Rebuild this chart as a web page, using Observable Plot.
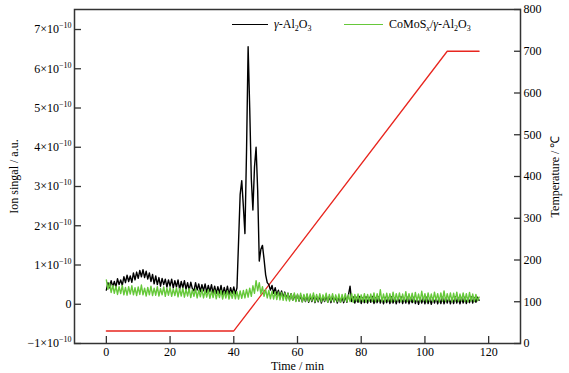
<!DOCTYPE html>
<html><head><meta charset="utf-8">
<script src="https://cdn.jsdelivr.net/npm/d3@7"></script>
<script src="https://cdn.jsdelivr.net/npm/@observablehq/plot@0.6"></script>
<style>
html,body{margin:0;padding:0;background:#fff;}
#wrap{position:relative;width:569px;height:373px;font-family:"Liberation Serif","Times New Roman",serif;}
.leg{position:absolute;font-size:12px;color:#000;line-height:12px;white-space:nowrap;}
.sw{position:absolute;height:0;}
.leg sub{font-size:8px;vertical-align:-3px;line-height:0;}
</style></head><body><div id="wrap"></div>
<script>
// ---- data ----
const timeStart = 0, timeStep = 0.5; // sampling of the two MS traces (min)
const blackValues = [ // γ-Al2O3, ion signal in 1e-10 a.u.
  0.36,0.55,0.42,0.60,0.45,0.58,0.44,0.65,0.50,0.62,0.48,0.70,0.55,0.74,0.58,0.72,0.56,0.80,0.62,0.82,
  0.66,0.86,0.70,0.88,0.68,0.84,0.64,0.80,0.58,0.76,0.52,0.72,0.50,0.68,0.46,0.66,0.50,0.64,0.44,0.62,
  0.46,0.64,0.42,0.60,0.44,0.62,0.38,0.58,0.42,0.60,0.38,0.55,0.36,0.56,0.40,0.34,0.55,0.36,0.52,0.32,
  0.50,0.34,0.52,0.30,0.48,0.32,0.50,0.28,0.46,0.27,0.45,0.28,0.48,0.24,0.43,0.26,0.46,0.24,0.42,0.27,
  0.44,0.26,0.42,1.60,2.80,3.15,2.50,1.80,3.90,6.56,5.00,3.20,2.40,3.50,4.00,2.90,1.10,1.40,1.50,1.15,
  0.75,0.55,0.50,0.36,0.48,0.28,0.42,0.24,0.36,0.19,0.34,0.17,0.31,0.14,0.28,0.12,0.27,0.10,0.25,0.09,
  0.24,0.08,0.23,0.06,0.22,0.07,0.24,0.05,0.21,0.07,0.23,0.04,0.20,0.06,0.22,0.03,0.19,0.07,0.23,0.05,
  0.20,0.04,0.21,0.06,0.19,0.03,0.20,0.05,0.18,0.04,0.21,0.05,0.24,0.46,0.07,0.19,0.03,0.18,0.05,0.20,
  0.02,0.17,0.04,0.19,0.03,0.18,0.05,0.20,0.02,0.17,0.04,0.19,0.03,0.16,0.01,0.18,0.04,0.17,0.02,0.19,
  0.03,0.16,0.01,0.17,0.04,0.19,0.02,0.16,0.03,0.18,0.01,0.16,0.04,0.18,0.02,0.15,0.00,0.17,0.03,0.16,
  0.01,0.18,0.02,0.15,0.00,0.16,0.03,0.17,0.01,0.15,0.02,0.18,0.01,0.16,0.03,0.17,0.01,0.16,0.02,0.19,
  0.03,0.16,0.01,0.17,0.03,0.18,0.02,0.16,0.04,0.19,0.03,0.17,0.05,0.18,0.10
];
const greenValues = [ // CoMoSx/γ-Al2O3
  0.62,0.38,0.54,0.30,0.48,0.28,0.46,0.25,0.45,0.27,0.48,0.24,0.43,0.23,0.45,0.26,0.47,0.24,0.42,0.22,
  0.44,0.25,0.49,0.24,0.41,0.21,0.43,0.24,0.46,0.22,0.41,0.23,0.45,0.21,0.40,0.24,0.44,0.20,0.41,0.23,
  0.43,0.20,0.39,0.22,0.42,0.19,0.40,0.21,0.41,0.18,0.38,0.21,0.40,0.17,0.37,0.20,0.39,0.16,0.36,0.19,
  0.38,0.16,0.35,0.18,0.37,0.15,0.34,0.17,0.36,0.14,0.33,0.17,0.35,0.13,0.32,0.16,0.34,0.13,0.31,0.15,
  0.33,0.14,0.32,0.13,0.34,0.15,0.35,0.16,0.38,0.18,0.41,0.20,0.47,0.28,0.60,0.34,0.55,0.26,0.45,0.20,
  0.38,0.16,0.35,0.14,0.33,0.13,0.32,0.12,0.31,0.11,0.30,0.10,0.29,0.09,0.28,0.08,0.27,0.10,0.29,0.07,
  0.26,0.09,0.28,0.06,0.25,0.08,0.27,0.07,0.26,0.09,0.29,0.06,0.25,0.08,0.27,0.06,0.24,0.09,0.28,0.05,
  0.25,0.08,0.27,0.06,0.24,0.07,0.26,0.05,0.25,0.08,0.27,0.06,0.24,0.07,0.27,0.05,0.25,0.08,0.26,0.06,
  0.24,0.07,0.27,0.05,0.25,0.08,0.26,0.07,0.29,0.06,0.27,0.08,0.37,0.07,0.26,0.06,0.28,0.08,0.27,0.06,
  0.31,0.07,0.27,0.09,0.29,0.06,0.26,0.08,0.32,0.07,0.27,0.09,0.28,0.06,0.30,0.08,0.26,0.07,0.33,0.09,
  0.27,0.06,0.29,0.08,0.26,0.07,0.31,0.09,0.27,0.06,0.29,0.08,0.34,0.07,0.27,0.09,0.29,0.06,0.28,0.08,
  0.31,0.07,0.26,0.09,0.29,0.07,0.27,0.06,0.30,0.08,0.26,0.07,0.25,0.09,0.18
];
const tempTimes = [0, 40, 107, 117];   // min
const tempValues = [30, 30, 700, 700]; // °C
const xTicks = [0, 20, 40, 60, 80, 100, 120];
const yTicks = [-1, 0, 1, 2, 3, 4, 5, 6, 7];   // ×1e-10
const tempTicks = [0, 100, 200, 300, 400, 500, 600, 700, 800];
const xDomain = [-10, 130];
const yDomain = [-1, 7.51];
const tempDomain = [0, 800];

// ---- build ----
const toY = T => yDomain[0] + (T - tempDomain[0]) / (tempDomain[1] - tempDomain[0]) * (yDomain[1] - yDomain[0]);
const fromY = y => tempDomain[0] + (y - yDomain[0]) / (yDomain[1] - yDomain[0]) * (tempDomain[1] - tempDomain[0]);
const black = blackValues.map((v, i) => ({t: timeStart + i * timeStep, v}));
const green = greenValues.map((v, i) => ({t: timeStart + i * timeStep, v}));
const temp = tempTimes.map((t, i) => ({t, v: toY(tempValues[i])}));
const fmtY = d => d === 0 ? "0" : (d < 0 ? "\u2212" + (-d) : d) + "\u00d710|\u221210";
const blank = () => "";

const serif = "'Liberation Serif','Times New Roman',serif";
const plot = Plot.plot({
  width: 569, height: 373,
  marginLeft: 74, marginRight: 49, marginTop: 9, marginBottom: 30,
  style: {fontFamily: serif, fontSize: "12px", background: "#fff", color: "#000", overflow: "visible"},
  x: {domain: xDomain},
  y: {domain: yDomain},
  marks: [
    Plot.axisX({ticks: xTicks, tickSize: -7, tickFormat: blank, label: null, stroke: "#333", strokeWidth: 1.3}),
    Plot.axisX({ticks: xTicks, tickSize: 0, tickPadding: 4, label: "Time / min", labelAnchor: "center", labelArrow: "none", labelOffset: 26, fontSize: 12}),
    Plot.axisY({ticks: yTicks, tickSize: -7, tickFormat: blank, label: null, stroke: "#333", strokeWidth: 1.3}),
    Plot.axisY({ticks: yTicks, tickSize: 0, tickPadding: 3, tickFormat: fmtY, label: "Ion singal / a.u.", labelAnchor: "center", labelArrow: "none", labelOffset: 65, fontSize: 12}),
    Plot.axisY({anchor: "right", ticks: tempTicks.map(toY), tickSize: -7, tickFormat: blank, label: null, stroke: "#333", strokeWidth: 1.3}),
    Plot.axisY({anchor: "right", ticks: tempTicks.map(toY), tickSize: 0, tickPadding: 3, tickFormat: y => String(Math.round(fromY(y))), label: "Temperature / \u2103", labelAnchor: "center", labelArrow: "none", labelOffset: 38, fontSize: 12}),
    Plot.line(temp, {x: "t", y: "v", stroke: "#e8261f", strokeWidth: 1.3}),
    Plot.line(black, {x: "t", y: "v", stroke: "#000", strokeWidth: 1.4}),
    Plot.line(green, {x: "t", y: "v", stroke: "#66c83a", strokeWidth: 1.4}),
    Plot.frame({stroke: "#333", strokeWidth: 1.5})
  ]
});
// superscript exponents on the left tick labels
plot.querySelectorAll("text").forEach(t => {
  const s = t.textContent;
  if (s.includes("|")) {
    const [base, exp] = s.split("|");
    t.textContent = base;
    const sp = document.createElementNS("http://www.w3.org/2000/svg", "tspan");
    sp.setAttribute("dy", "-5");
    sp.setAttribute("font-size", "8");
    sp.textContent = exp;
    t.appendChild(sp);
  }
});
const wrap = document.getElementById("wrap");
wrap.appendChild(plot);
// legend
const legendItems = [
  {html: "<i>γ</i>-Al<sub>2</sub>O<sub>3</sub>", color: "#000", x1: 232, x2: 268, tx: 274},
  {html: "CoMoS<sub><i>x</i></sub>/<i>γ</i>-Al<sub>2</sub>O<sub>3</sub>", color: "#66c83a", x1: 344, x2: 383, tx: 389}
];
legendItems.forEach(it => {
  const sw = document.createElement("div");
  sw.className = "sw";
  sw.style.cssText = `left:${it.x1}px;width:${it.x2 - it.x1}px;top:24px;border-top:1.5px solid ${it.color};`;
  wrap.appendChild(sw);
  const tx = document.createElement("div");
  tx.className = "leg";
  tx.style.cssText = `left:${it.tx}px;top:18px;`;
  tx.innerHTML = it.html;
  wrap.appendChild(tx);
});
</script></body></html>
